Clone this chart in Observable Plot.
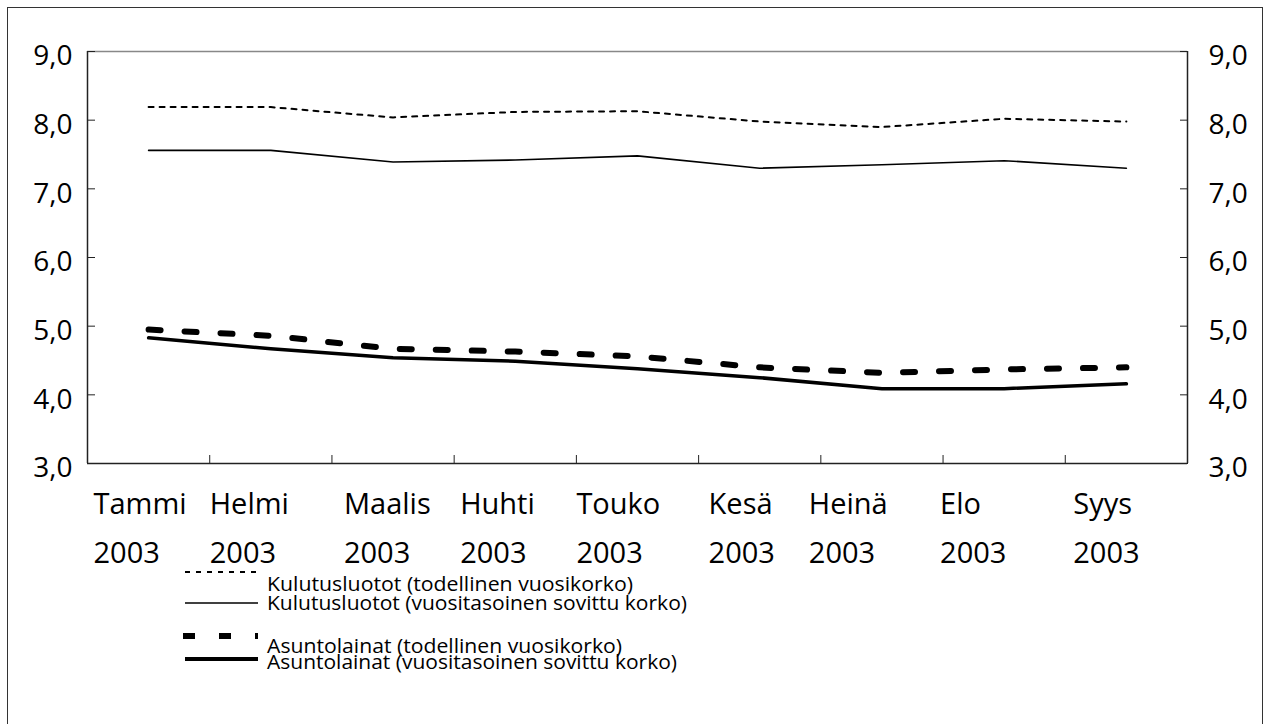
<!DOCTYPE html>
<html>
<head>
<meta charset="utf-8">
<script src="https://cdn.jsdelivr.net/npm/d3@7"></script>
<script src="https://cdn.jsdelivr.net/npm/@observablehq/plot@0.6"></script>
<style>
  html, body { margin: 0; padding: 0; background: #fff; }
  #wrap { position: relative; width: 1265px; height: 724px; overflow: hidden; font-family: "Open Sans", sans-serif; }
  #border { position: absolute; left: 7px; top: 7px; width: 1256px; height: 740px; border: 1.5px solid #333; box-sizing: border-box; }
  #chart { position: absolute; left: 0; top: 0; }
  #legend { position: absolute; left: 0; top: 0; pointer-events: none; }
</style>
</head>
<body>
<div id="wrap">
  <div id="border"></div>
  <div id="chart"></div>
  <svg id="legend" width="1265" height="724"></svg>
</div>
<script>
// ---- data ----
const months = ["Tammi", "Helmi", "Maalis", "Huhti", "Touko", "Kesä", "Heinä", "Elo", "Syys"];
const years = ["2003", "2003", "2003", "2003", "2003", "2003", "2003", "2003", "2003"];
const kulutusTodellinen = [8.19, 8.19, 8.04, 8.12, 8.13, 7.98, 7.90, 8.02, 7.98];
const kulutusSovittu = [7.56, 7.56, 7.39, 7.42, 7.48, 7.30, 7.35, 7.41, 7.30];
const asuntoTodellinen = [4.95, 4.86, 4.67, 4.63, 4.56, 4.40, 4.32, 4.37, 4.40];
const asuntoSovittu = [4.83, 4.67, 4.54, 4.49, 4.38, 4.25, 4.09, 4.09, 4.16];
const yTicks = [3, 4, 5, 6, 7, 8, 9];
const seriesNames = [
  "Kulutusluotot (todellinen vuosikorko)",
  "Kulutusluotot (vuositasoinen sovittu korko)",
  "Asuntolainat (todellinen vuosikorko)",
  "Asuntolainat (vuositasoinen sovittu korko)"
];

// ---- layout (not data) ----
const labelNudge = [6, 0, 12, 6, 0, 10, -12, -3, 8]; // px shift of each category label column

const idx = months.map((m, i) => i);
const pts = vals => vals.map((v, i) => ({x: i + 0.5, y: v}));
const fmt = d => d.toFixed(1).replace(".", ",");
const boundaries = d3.range(1, months.length);

const labelMarks = [];
idx.forEach(i => {
  labelMarks.push(Plot.text([i], {x: d => d, y: () => 3, text: d => months[d], textAnchor: "start", dx: labelNudge[i], dy: 41, fontSize: 29, fill: "#000"}));
  labelMarks.push(Plot.text([i], {x: d => d, y: () => 3, text: d => years[d], textAnchor: "start", dx: labelNudge[i], dy: 90, fontSize: 29, fill: "#000"}));
});

const chart = Plot.plot({
  width: 1265,
  height: 724,
  marginLeft: 87,
  marginRight: 78,
  marginTop: 51,
  marginBottom: 261,
  style: {fontFamily: "Open Sans, sans-serif", background: "transparent", color: "#000"},
  x: {domain: [0, months.length], axis: null},
  y: {domain: [3, 9], axis: null},
  marks: [
    Plot.ruleY([9], {stroke: "#888", strokeWidth: 1.5}),
    Plot.ruleY([3], {stroke: "#222", strokeWidth: 1.5}),
    Plot.ruleX([0, months.length], {stroke: "#222", strokeWidth: 1.5}),
    Plot.axisY(yTicks, {anchor: "left", tickSize: -8, tickFormat: () => "", stroke: "#222", label: null}),
    Plot.axisY(yTicks, {anchor: "right", tickSize: -8, tickFormat: () => "", stroke: "#222", label: null}),
    Plot.axisX(boundaries, {anchor: "bottom", tickSize: -8, tickFormat: () => "", stroke: "#222", label: null}),
    Plot.text(yTicks, {x: () => 0, y: d => d, text: fmt, textAnchor: "end", dx: -15, dy: 5, fontSize: 28, fill: "#000"}),
    Plot.text(yTicks, {x: () => months.length, y: d => d, text: fmt, textAnchor: "start", dx: 21, dy: 5, fontSize: 28, fill: "#000"}),
    ...labelMarks,
    Plot.line(pts(kulutusTodellinen), {x: "x", y: "y", stroke: "#000", strokeWidth: 2, strokeDasharray: "5,6"}),
    Plot.line(pts(kulutusSovittu), {x: "x", y: "y", stroke: "#000", strokeWidth: 1.6}),
    Plot.line(pts(asuntoTodellinen), {x: "x", y: "y", stroke: "#000", strokeWidth: 6, strokeDasharray: "12,24"}),
    Plot.line(pts(asuntoSovittu), {x: "x", y: "y", stroke: "#000", strokeWidth: 3.5})
  ]
});
document.getElementById("chart").appendChild(chart);

// ---- legend ----
const styles = [
  {w: 2, dash: "5,6", ly: 572, ty: 591, len: 366},
  {w: 1.6, dash: null, ly: 603, ty: 610, len: 420},
  {w: 6, dash: "12,24", ly: 636, ty: 653, len: 355},
  {w: 4, dash: null, ly: 659, ty: 669, len: 410}
];
const leg = d3.select("#legend");
seriesNames.forEach((name, i) => {
  const s = styles[i];
  const ln = leg.append("line")
    .attr("x1", i === 2 ? 183 : 185).attr("x2", 258)
    .attr("y1", s.ly).attr("y2", s.ly)
    .attr("stroke", "#000").attr("stroke-width", s.w);
  if (s.dash) ln.attr("stroke-dasharray", s.dash);
  leg.append("text")
    .attr("x", 267).attr("y", s.ty)
    .attr("font-family", "Open Sans, sans-serif")
    .attr("font-size", 20)
    .attr("textLength", s.len)
    .attr("lengthAdjust", "spacingAndGlyphs")
    .attr("fill", "#000")
    .text(name);
});
</script>
</body>
</html>
